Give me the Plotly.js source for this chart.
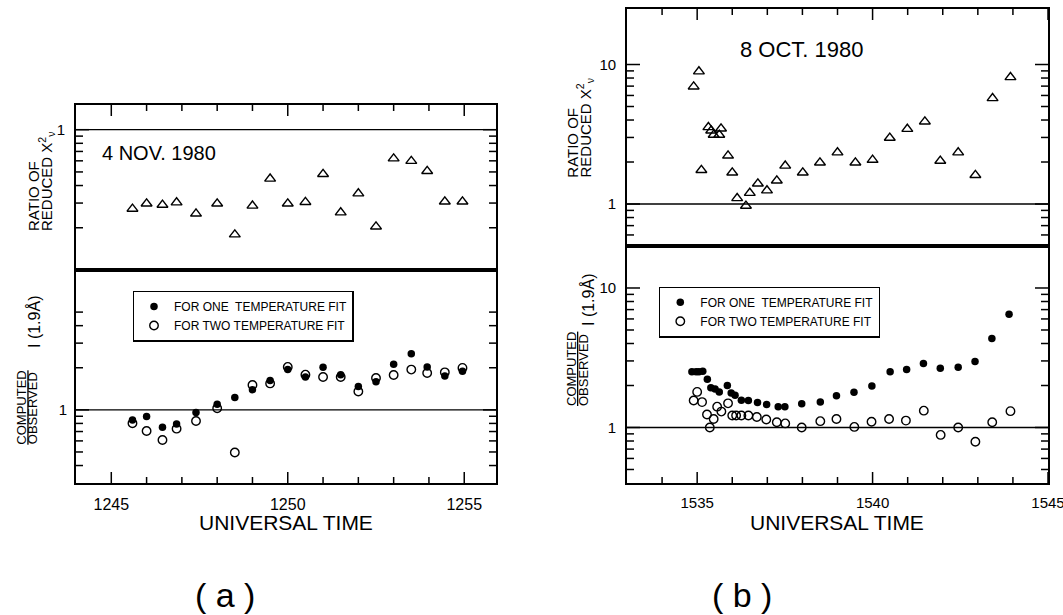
<!DOCTYPE html>
<html>
<head>
<meta charset="utf-8">
<script src="https://cdn.plot.ly/plotly-3.0.1.min.js"></script>
<style>
html,body{margin:0;padding:0;background:#fff;}
#wrap{position:relative;width:1063px;height:615px;}
.panel{position:absolute;left:0;top:0;width:1063px;height:615px;}
</style>
</head>
<body>
<div id="wrap">
  <div id="pAtop" class="panel"></div>
  <div id="pAbot" class="panel"></div>
  <div id="pBtop" class="panel"></div>
  <div id="pBbot" class="panel"></div>
</div>
<script>
// ---------------- Panel (a): 4 NOV. 1980 ----------------
const timeA = [1245.6, 1246.0, 1246.45, 1246.85, 1247.4, 1248.0, 1248.5, 1249.0, 1249.5, 1250.0,
               1250.5, 1251.0, 1251.5, 1252.0, 1252.5, 1253.0, 1253.5, 1253.95, 1254.45, 1254.95];
const chiRatioA = [0.273, 0.297, 0.291, 0.303, 0.252, 0.297, 0.179, 0.287, 0.447, 0.297,
                   0.305, 0.482, 0.257, 0.351, 0.204, 0.623, 0.598, 0.507, 0.307, 0.307];
const oneTempA = [0.848, 0.895, 0.750, 0.793, 0.956, 1.099, 1.226, 1.393, 1.625, 1.940,
                  1.718, 2.015, 1.786, 1.471, 1.590, 2.118, 2.516, 2.028, 1.747, 1.887];
const twoTempA = [0.802, 0.706, 0.609, 0.734, 0.833, 1.028, 0.496, 1.506, 1.546, 2.028,
                  1.786, 1.718, 1.718, 1.354, 1.690, 1.777, 1.940, 1.837, 1.855, 1.996];

// ---------------- Panel (b): 8 OCT. 1980 ----------------
const timeBchi = [1534.90, 1535.05, 1535.12, 1535.32, 1535.40, 1535.47, 1535.63, 1535.68, 1535.88, 1536.00,
                  1536.14, 1536.39, 1536.50, 1536.73, 1536.99, 1537.27, 1537.51, 1538.01, 1538.50, 1539.00,
                  1539.51, 1540.00, 1540.49, 1540.99, 1541.49, 1541.93, 1542.44, 1542.93, 1543.42, 1543.93];
const chiRatioB = [6.95, 8.91, 1.75, 3.55, 3.36, 3.13, 3.13, 3.47, 2.22, 1.68,
                   1.10, 0.97, 1.20, 1.40, 1.25, 1.47, 1.88, 1.68, 1.98, 2.34,
                   1.98, 2.07, 2.98, 3.45, 3.90, 2.04, 2.34, 1.61, 5.73, 8.11];
const timeBone = [1534.85, 1534.97, 1535.05, 1535.16, 1535.29, 1535.39, 1535.51, 1535.63, 1535.86, 1535.97,
                  1536.08, 1536.26, 1536.46, 1536.72, 1536.98, 1537.31, 1537.50, 1537.98, 1538.51, 1538.97,
                  1539.47, 1539.98, 1540.50, 1540.97, 1541.45, 1541.93, 1542.44, 1542.92, 1543.40, 1543.89];
const oneTempB = [2.51, 2.51, 2.51, 2.53, 2.22, 1.93, 1.89, 1.80, 2.00, 1.77,
                  1.70, 1.57, 1.56, 1.51, 1.46, 1.41, 1.41, 1.48, 1.52, 1.69,
                  1.79, 1.98, 2.51, 2.60, 2.87, 2.66, 2.70, 2.97, 4.34, 6.47];
const timeBtwo = [1534.90, 1535.00, 1535.14, 1535.28, 1535.36, 1535.47, 1535.57, 1535.69, 1535.88, 1536.00,
                  1536.11, 1536.26, 1536.46, 1536.70, 1536.97, 1537.27, 1537.51, 1537.98, 1538.51, 1538.97,
                  1539.48, 1539.97, 1540.47, 1540.95, 1541.46, 1541.94, 1542.44, 1542.93, 1543.41, 1543.93];
const twoTempB = [1.56, 1.80, 1.52, 1.24, 1.00, 1.15, 1.41, 1.30, 1.49, 1.22,
                  1.22, 1.22, 1.22, 1.19, 1.14, 1.09, 1.07, 1.00, 1.11, 1.15,
                  1.01, 1.10, 1.15, 1.12, 1.32, 0.885, 1.00, 0.79, 1.09, 1.31];

// ---------------- Tick values / labels ----------------
const xMajorA = [1245, 1250, 1255];
const xMinorA = [1246, 1247, 1248, 1249, 1251, 1252, 1253, 1254];
const xMajorB = [1535, 1540, 1545];
const xMinorB = [1534, 1536, 1537, 1538, 1539, 1541, 1542, 1543, 1544];
const yMajorA = [1];
const yMajorB = [1, 10];
const yMinorTopA = [0.2, 0.3, 0.4, 0.5, 0.6, 0.7, 0.8, 0.9];
const yMinorBotA = [0.4, 0.5, 0.6, 0.7, 0.8, 0.9, 2, 3, 4, 5];
const yMinorTopB = [0.6, 0.7, 0.8, 0.9, 2, 3, 4, 5, 6, 7, 8, 9];
const yMinorBotB = [0.5, 0.6, 0.7, 0.8, 0.9, 2, 3, 4, 5, 6, 7, 8, 9];
const refLevel = 1;

const legendOne = 'FOR ONE  TEMPERATURE FIT';
const legendTwo = 'FOR TWO TEMPERATURE FIT';

// ---------------- Layout helpers ----------------
const FONT = 'Liberation Sans, Arial, Helvetica, sans-serif';
const W = 1063, H = 615;
const boxAtop = {x0: 76, x1: 496, y0: 105, y1: 270};
const boxAbot = {x0: 76, x1: 496, y0: 270, y1: 483};
const boxBtop = {x0: 627, x1: 1048, y0: 9, y1: 246};
const boxBbot = {x0: 627, x1: 1048, y0: 246, y1: 483};

function frame(b) {
  return {
    box: b,
    margin: {l: b.x0, r: W - b.x1, t: b.y0, b: H - b.y1, pad: 0, autoexpand: false},
    px: v => (v - b.x0) / (b.x1 - b.x0),
    py: v => 1 - (v - b.y0) / (b.y1 - b.y0)
  };
}
const fAtop = frame(boxAtop), fAbot = frame(boxAbot), fBtop = frame(boxBtop), fBbot = frame(boxBbot);

const base = () => ({showline: true, linecolor: '#000', linewidth: 1.7, ticks: '', showgrid: false, zeroline: false});

function xAxis(range, majors, extra) {
  return Object.assign(base(), {range: range, tickmode: 'array', tickvals: majors, ticktext: majors.map(String),
    mirror: true}, extra || {});
}
function yAxis(range, majors, extra) {
  return Object.assign(base(), {type: 'log', range: range, tickmode: 'array', tickvals: majors,
    ticktext: majors.map(String), mirror: true,
    tickfont: {family: FONT, size: 15, color: '#000'}, ticklabelstandoff: 6}, extra || {});
}

// tick marks drawn inside the frame at the axis tick values
const TICK = {color: '#000', width: 1.5};
function tickShapes(f, o) {
  const pw = f.box.x1 - f.box.x0, ph = f.box.y1 - f.box.y0;
  const s = [];
  const xt = (v, len) => {
    const h = len / ph;
    s.push({type: 'line', xref: 'x', x0: v, x1: v, yref: 'y domain',
            y0: o.xTop ? 1 - h : 0, y1: o.xTop ? 1 : h, line: TICK});
  };
  o.xMajor.forEach(v => xt(v, 11));
  o.xMinor.forEach(v => xt(v, 6));
  const yt = (v, len) => {
    const w = len / pw;
    s.push({type: 'line', yref: 'y', y0: v, y1: v, xref: 'x domain', x0: 0, x1: w, line: TICK});
    s.push({type: 'line', yref: 'y', y0: v, y1: v, xref: 'x domain', x0: 1 - w, x1: 1, line: TICK});
  };
  o.yMajor.forEach(v => yt(v, 13));
  o.yMinor.forEach(v => yt(v, 7));
  s.push({type: 'line', xref: 'x domain', x0: 0, x1: 1, yref: 'y', y0: refLevel, y1: refLevel,
          line: {color: '#000', width: 1.3}});
  return s;
}

function baseLayout(f, paper) {
  return {width: W, height: H, margin: f.margin, paper_bgcolor: paper, plot_bgcolor: 'rgba(0,0,0,0)',
          font: {family: FONT, color: '#000'}, hovermode: false, showlegend: false};
}
function legendAt(f, x, y) {
  return {x: f.px(x), y: f.py(y), xanchor: 'left', yanchor: 'top', bordercolor: '#000', borderwidth: 1.3,
          bgcolor: 'rgba(255,255,255,0)', font: {family: FONT, size: 12, color: '#000'}, tracegroupgap: 0, itemwidth: 30};
}

const tri = {symbol: 'triangle-up-open', size: 9.5, color: '#000', line: {color: '#000', width: 1.4}};
const dotFilled = {symbol: 'circle', size: 7.5, color: '#000'};
const dotOpen = {symbol: 'circle-open', size: 8.5, color: '#000', line: {color: '#000', width: 1.4}};
const cfg = {displayModeBar: false};

// ---- (a) top: ratio of reduced chi^2 ----
const layAtop = Object.assign(baseLayout(fAtop, '#fff'), {
  xaxis: xAxis([1244, 1255.9], xMajorA, {side: 'top', showticklabels: false}),
  yaxis: yAxis([-1, Math.log10(1.5)], yMajorA),
  shapes: tickShapes(fAtop, {xTop: true, xMajor: xMajorA, xMinor: xMinorA, yMajor: yMajorA, yMinor: yMinorTopA})
});
Plotly.newPlot('pAtop', [{x: timeA, y: chiRatioA, mode: 'markers', type: 'scatter', marker: tri}], layAtop, cfg);

// ---- (a) bottom: computed / observed ----
const layAbot = Object.assign(baseLayout(fAbot, 'rgba(0,0,0,0)'), {
  showlegend: true,
  legend: legendAt(fAbot, 132.7, 290.7),
  xaxis: xAxis([1244, 1255.9], xMajorA, {tickfont: {family: FONT, size: 16, color: '#000'}, ticklabelstandoff: 6}),
  yaxis: yAxis([Math.log10(0.3), 1], yMajorA, {ticklabelstandoff: 4}),
  shapes: tickShapes(fAbot, {xTop: false, xMajor: xMajorA, xMinor: xMinorA, yMajor: yMajorA, yMinor: yMinorBotA})
});
Plotly.newPlot('pAbot', [
  {x: timeA, y: oneTempA, mode: 'markers', type: 'scatter', marker: dotFilled, name: legendOne},
  {x: timeA, y: twoTempA, mode: 'markers', type: 'scatter', marker: dotOpen, name: legendTwo}
], layAbot, cfg);

// ---- (b) top ----
const layBtop = Object.assign(baseLayout(fBtop, 'rgba(0,0,0,0)'), {
  xaxis: xAxis([1533, 1545], xMajorB, {side: 'top', showticklabels: false}),
  yaxis: yAxis([Math.log10(0.5), Math.log10(25)], yMajorB),
  shapes: tickShapes(fBtop, {xTop: true, xMajor: xMajorB, xMinor: xMinorB, yMajor: yMajorB, yMinor: yMinorTopB})
});
Plotly.newPlot('pBtop', [{x: timeBchi, y: chiRatioB, mode: 'markers', type: 'scatter', marker: tri}], layBtop, cfg);

// ---- (b) bottom + all free texts ----
function ann(text, x, y, opts) {
  return Object.assign({text: text, x: fBbot.px(x), y: fBbot.py(y), xref: 'paper', yref: 'paper',
    showarrow: false, font: {family: FONT, size: 15, color: '#000'}}, opts || {});
}
const rot = size => ({textangle: -90, xanchor: 'center', yanchor: 'bottom', font: {family: FONT, size: size, color: '#000'}});
const plain = size => ({xanchor: 'center', yanchor: 'middle', font: {family: FONT, size: size, color: '#000'}});

const layBbot = Object.assign(baseLayout(fBbot, 'rgba(0,0,0,0)'), {
  showlegend: true,
  legend: legendAt(fBbot, 659, 286.5),
  xaxis: xAxis([1533, 1545], xMajorB, {tickfont: {family: FONT, size: 15, color: '#000'}, ticklabelstandoff: 5,
                                       ticklabeloverflow: 'allow'}),
  yaxis: yAxis([Math.log10(0.4), Math.log10(20)], yMajorB),
  shapes: tickShapes(fBbot, {xTop: false, xMajor: xMajorB, xMinor: xMinorB, yMajor: yMajorB, yMinor: yMinorBotB}),
  annotations: [
    ann('4 NOV. 1980', 100, 153, {xanchor: 'left', yanchor: 'middle', font: {family: FONT, size: 20, color: '#000'}}),
    ann('8 OCT. 1980', 738, 50, {xanchor: 'left', yanchor: 'middle', font: {family: FONT, size: 22, color: '#000'}}),
    ann('RATIO OF', 33, 233, rot(15)),
    ann('REDUCED X<sup>2</sup><sub>ν</sub>', 46.5, 233, rot(15)),
    ann('<u>COMPUTED</u>', 22, 446.7, rot(13)),
    ann('OBSERVED', 32.5, 446.7, rot(13)),
    ann('I (1.9Å)', 34, 350, rot(16)),
    ann('RATIO OF', 571.7, 180, rot(15)),
    ann('REDUCED X<sup>2</sup><sub>ν</sub>', 585, 180, rot(15)),
    ann('<u>COMPUTED</u>', 571, 408, rot(13)),
    ann('OBSERVED', 583, 408, rot(13)),
    ann('I (1.9Å)', 588, 328, rot(16)),
    ann('UNIVERSAL TIME', 286, 522.5, plain(21)),
    ann('UNIVERSAL TIME', 837, 522.5, plain(21)),
    ann('( a )', 225, 595, plain(34)),
    ann('( b )', 742, 595, plain(34))
  ]
});
Plotly.newPlot('pBbot', [
  {x: timeBone, y: oneTempB, mode: 'markers', type: 'scatter', marker: dotFilled, name: legendOne},
  {x: timeBtwo, y: twoTempB, mode: 'markers', type: 'scatter', marker: dotOpen, name: legendTwo}
], layBbot, cfg);
</script>
</body>
</html>
